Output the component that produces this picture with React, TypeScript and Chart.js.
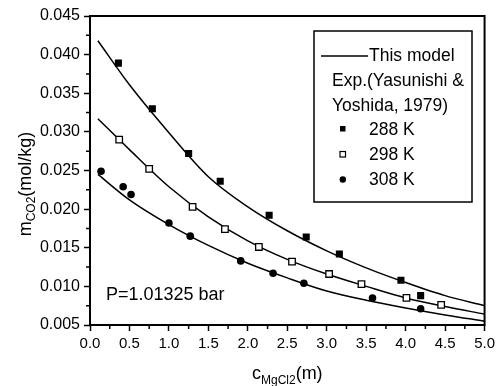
import React, { useEffect, useRef } from 'react';
import { Chart, registerables } from 'chart.js';

Chart.register(...registerables);

// Experimental data (Yasunishi & Yoshida, 1979)
const exp288X = [0.36, 0.79, 1.25, 1.65, 2.27, 2.74, 3.16, 3.94, 4.19];
const exp288Y = [0.0389, 0.0330, 0.0272, 0.0236, 0.0192, 0.0164, 0.0142, 0.0108, 0.0088];

const exp298X = [0.37, 0.75, 1.30, 1.71, 2.14, 2.56, 3.03, 3.44, 4.01, 4.45];
const exp298Y = [0.0290, 0.0252, 0.0203, 0.0174, 0.0151, 0.0132, 0.0116, 0.0103, 0.0085, 0.0076];

const exp308X = [0.14, 0.42, 0.52, 1.00, 1.27, 1.91, 2.32, 2.71, 3.58, 4.19];
const exp308Y = [0.0249, 0.0229, 0.0219, 0.0182, 0.0165, 0.0133, 0.0117, 0.0104, 0.0085, 0.0071];

// Model curves ("This model")
const modelX = [0.1, 0.5, 1.0, 1.5, 2.0, 2.5, 3.0, 3.5, 4.0, 4.5, 5.0];
const model288 = [0.0418, 0.0361, 0.0299, 0.0242, 0.0203, 0.0172, 0.0146, 0.0124, 0.0105, 0.0088, 0.0075];
const model298 = [0.0317, 0.0277, 0.0229, 0.0190, 0.0159, 0.0135, 0.0116, 0.0100, 0.0085, 0.0074, 0.0064];
const model308 = [0.0245, 0.0212, 0.0180, 0.0153, 0.0130, 0.0111, 0.0094, 0.0082, 0.0072, 0.0063, 0.0055];

const legendLabels = ['This model', 'Exp.(Yasunishi &', 'Yoshida, 1979)', '288 K', '298 K', '308 K'];
const pressureLabel = 'P=1.01325 bar';

const FONT = '"Liberation Sans", Arial, Helvetica, sans-serif';

type Part = { t: string; sub?: boolean };

function drawRich(ctx: CanvasRenderingContext2D, parts: Part[], x: number, y: number, size: number, subSize: number, subShift: number) {
  let total = 0;
  const widths = parts.map((p) => {
    ctx.font = `${p.sub ? subSize : size}px ${FONT}`;
    const w = ctx.measureText(p.t).width;
    total += w;
    return w;
  });
  let cx = x - total / 2;
  ctx.textAlign = 'left';
  ctx.textBaseline = 'alphabetic';
  parts.forEach((p, i) => {
    ctx.font = `${p.sub ? subSize : size}px ${FONT}`;
    ctx.fillText(p.t, cx, p.sub ? y + subShift : y);
    cx += widths[i];
  });
}

export default function App() {
  const ref = useRef<HTMLCanvasElement>(null);

  useEffect(() => {
    document.body.style.margin = '0';
    const canvas = ref.current!;
    const pts = (xs: number[], ys: number[]) => xs.map((x, i) => ({ x, y: ys[i] }));

    const decor = {
      id: 'decor',
      afterDraw(chart: any) {
        const ctx: CanvasRenderingContext2D = chart.ctx;
        const { left, right, top, bottom } = chart.chartArea;
        const xs = chart.scales.x;
        const ys = chart.scales.y;
        ctx.save();
        ctx.strokeStyle = '#000';
        ctx.fillStyle = '#000';
        // frame
        ctx.lineWidth = 2;
        ctx.strokeRect(left, top, right - left, bottom - top);
        // minor ticks
        ctx.lineWidth = 1.5;
        ctx.beginPath();
        for (let v = 0.25; v < 5; v += 0.5) {
          const px = xs.getPixelForValue(v);
          ctx.moveTo(px, bottom);
          ctx.lineTo(px, bottom + 4);
        }
        for (let v = 0.0075; v < 0.045; v += 0.005) {
          const py = ys.getPixelForValue(v);
          ctx.moveTo(left, py);
          ctx.lineTo(left - 4, py);
        }
        ctx.stroke();

        // axis titles
        drawRich(ctx, [{ t: 'c' }, { t: 'MgCl2', sub: true }, { t: '(m)' }], (left + right) / 2, 379, 18, 12, 5);
        ctx.save();
        ctx.translate(31, 184);
        ctx.rotate(-Math.PI / 2);
        drawRich(ctx, [{ t: 'm' }, { t: 'CO2', sub: true }, { t: '(mol/kg)' }], 0, 0, 18, 12, 4);
        ctx.restore();

        // pressure label
        ctx.font = `18px ${FONT}`;
        ctx.textAlign = 'left';
        ctx.textBaseline = 'alphabetic';
        ctx.fillText(pressureLabel, 106, 300);

        // legend
        ctx.lineWidth = 1.5;
        ctx.strokeRect(314, 31, 158, 171);
        ctx.beginPath();
        ctx.moveTo(321, 56);
        ctx.lineTo(368, 56);
        ctx.stroke();
        ctx.font = `17.5px ${FONT}`;
        ctx.fillText(legendLabels[0], 369, 61);
        ctx.fillText(legendLabels[1], 332, 86);
        ctx.fillText(legendLabels[2], 332, 111);
        ctx.fillText(legendLabels[3], 369, 135);
        ctx.fillText(legendLabels[4], 369, 160);
        ctx.fillText(legendLabels[5], 369, 185);
        // legend markers
        ctx.fillRect(340, 126, 5.5, 5.5);
        ctx.lineWidth = 1.2;
        ctx.fillStyle = '#fff';
        ctx.fillRect(340, 151.5, 5.5, 5.5);
        ctx.strokeRect(340, 151.5, 5.5, 5.5);
        ctx.fillStyle = '#000';
        ctx.beginPath();
        ctx.arc(342.8, 179.5, 3.2, 0, Math.PI * 2);
        ctx.fill();
        ctx.restore();
      },
    };

    const lineDs = (ys: number[]) => ({
      data: pts(modelX, ys),
      showLine: true,
      borderColor: '#000',
      borderWidth: 1.5,
      pointRadius: 0,
      cubicInterpolationMode: 'monotone' as const,
      fill: false,
      order: 2,
    });

    const chart = new Chart(canvas, {
      type: 'scatter',
      data: {
        datasets: [
          {
            data: pts(exp288X, exp288Y),
            pointStyle: 'rect',
            pointRadius: 5,
            backgroundColor: '#000',
            borderColor: '#000',
            borderWidth: 0,
            order: 1,
          },
          {
            data: pts(exp298X, exp298Y),
            pointStyle: 'rect',
            pointRadius: 4.6,
            backgroundColor: '#fff',
            borderColor: '#000',
            borderWidth: 1.3,
            order: 1,
          },
          {
            data: pts(exp308X, exp308Y),
            pointStyle: 'circle',
            pointRadius: 3.8,
            backgroundColor: '#000',
            borderColor: '#000',
            borderWidth: 0,
            order: 1,
          },
          lineDs(model288),
          lineDs(model298),
          lineDs(model308),
        ] as any,
      },
      options: {
        animation: false,
        responsive: false,
        devicePixelRatio: 1,
        layout: { padding: { left: 0, right: 14, top: 16, bottom: 0 } },
        plugins: { legend: { display: false }, tooltip: { enabled: false } },
        events: [],
        scales: {
          x: {
            type: 'linear',
            min: 0,
            max: 5,
            ticks: {
              stepSize: 0.5,
              autoSkip: false,
              maxRotation: 0,
              color: '#000',
              padding: 4,
              font: { family: FONT, size: 15 },
              callback: (v: any) => Number(v).toFixed(1),
            },
            grid: { display: true, drawOnChartArea: false, drawTicks: true, tickLength: 6, color: '#000', tickWidth: 1.5 },
            border: { display: false },
            afterFit: (s: any) => { s.height = 61; },
          },
          y: {
            type: 'linear',
            min: 0.005,
            max: 0.045,
            ticks: {
              stepSize: 0.005,
              autoSkip: false,
              color: '#000',
              padding: 4,
              font: { family: FONT, size: 16 },
              callback: (v: any) => Number(v).toFixed(3),
            },
            grid: { display: true, drawOnChartArea: false, drawTicks: true, tickLength: 6, color: '#000', tickWidth: 1.5 },
            border: { display: false },
            afterFit: (s: any) => { s.width = 90; },
          },
        },
      } as any,
      plugins: [decor],
    });
    return () => chart.destroy();
  }, []);

  return (
    <div style={{ width: 499, height: 386 }}>
      <canvas ref={ref} width={499} height={386} style={{ display: 'block' }} />
    </div>
  );
}
